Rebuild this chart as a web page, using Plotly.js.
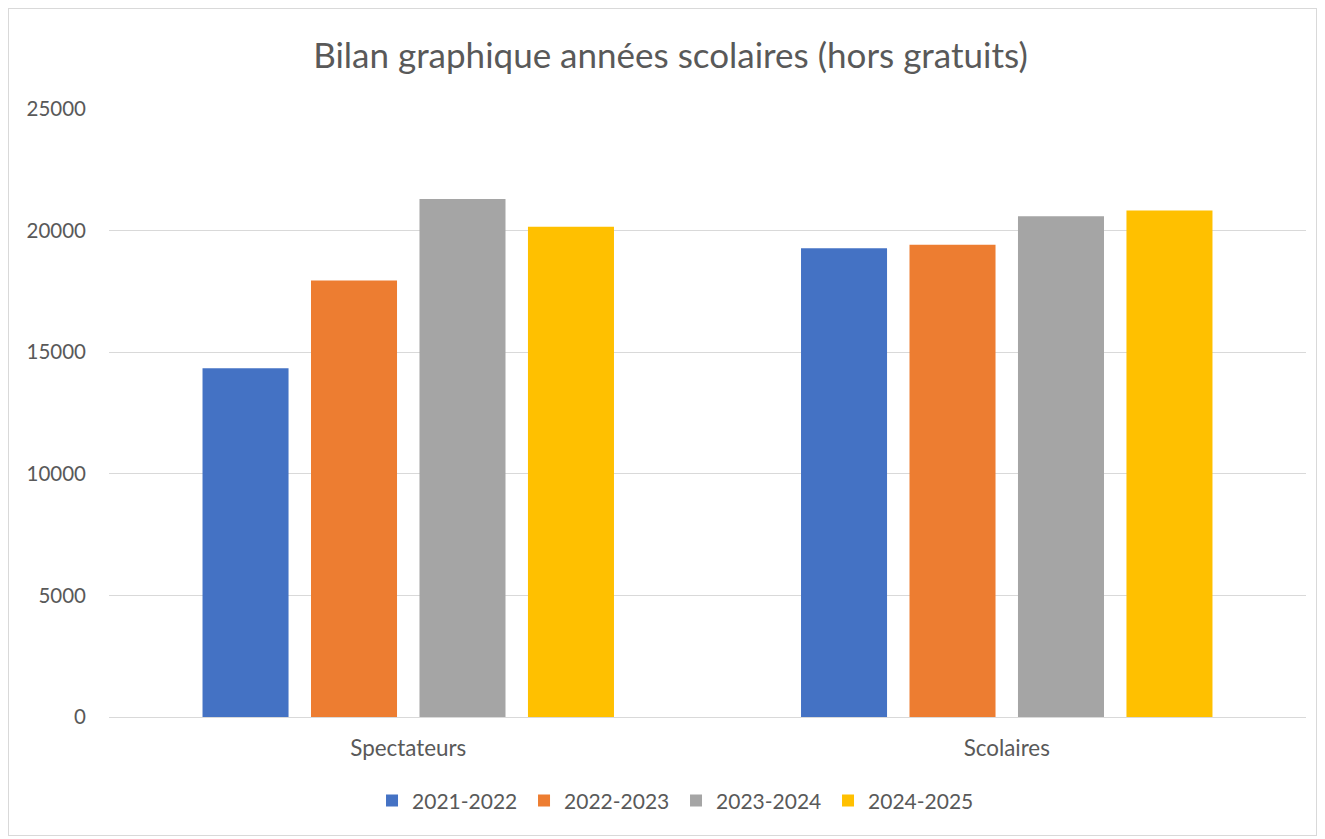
<!DOCTYPE html>
<html>
<head>
<meta charset="utf-8">
<script src="https://cdn.plot.ly/plotly-3.0.1.min.js"></script>
<style>
html,body{margin:0;padding:0;background:#fff;}
#frame{position:absolute;left:8px;top:8px;width:1309px;height:828px;border:1px solid #d9d9d9;box-sizing:border-box;}
#chart{position:absolute;left:0;top:0;width:1325px;height:839px;}
</style>
</head>
<body>
<div id="chart"></div>
<div id="frame"></div>
<script>
const categories = ["Spectateurs", "Scolaires"];
const seriesNames = ["2021-2022", "2022-2023", "2023-2024", "2024-2025"];
const values_2021_2022 = [14340, 19270];
const values_2022_2023 = [17950, 19420];
const values_2023_2024 = [21300, 20590];
const values_2024_2025 = [20160, 20830];
const colors = ["#4472C4", "#ED7D31", "#A5A5A5", "#FFC000"];
const yTicks = [0, 5000, 10000, 15000, 20000, 25000];

const allValues = [values_2021_2022, values_2022_2023, values_2023_2024, values_2024_2025];
const font = "Lato, 'Open Sans', sans-serif";
const traces = seriesNames.map((n, i) => ({
  type: "bar", name: n, x: categories, y: allValues[i],
  marker: {color: colors[i]}, hoverinfo: "x+y+name"
}));

const layout = {
  width: 1325, height: 839,
  margin: {l: 109, r: 19, t: 109, b: 122, autoexpand: false},
  paper_bgcolor: "rgba(0,0,0,0)", plot_bgcolor: "#fff",
  title: {text: "Bilan graphique années scolaires (hors gratuits)", x: 0.506, xref: "container", xanchor: "center",
          y: 0.934, yanchor: "middle",
          font: {family: font, size: 35, color: "#595959"}},
  barmode: "group", bargap: 0.275, bargroupgap: 0.207,
  xaxis: {showline: true, linecolor: "#d9d9d9", linewidth: 1, ticks: "", showgrid: false,
          tickfont: {family: font, size: 22.4, color: "#595959"}, ticklabelstandoff: 11},
  yaxis: {range: [0, 25000], tickvals: yTicks, ticktext: yTicks.map(String), showgrid: true, gridcolor: "#d9d9d9",
          gridwidth: 1, zeroline: false, showline: false, ticks: "",
          tickfont: {family: font, size: 20.5, color: "#595959"}, ticklabelstandoff: 22},
  legend: {orientation: "h", x: 0.4737, xanchor: "center", y: -0.138, yanchor: "middle",
           font: {family: font, size: 21, color: "#595959"}, itemwidth: 30, traceorder: "normal",
           entrywidth: 107, entrywidthmode: "pixels"},
  showlegend: true
};
Plotly.newPlot("chart", traces, layout, {displayModeBar: false, staticPlot: true});
</script>
</body>
</html>
